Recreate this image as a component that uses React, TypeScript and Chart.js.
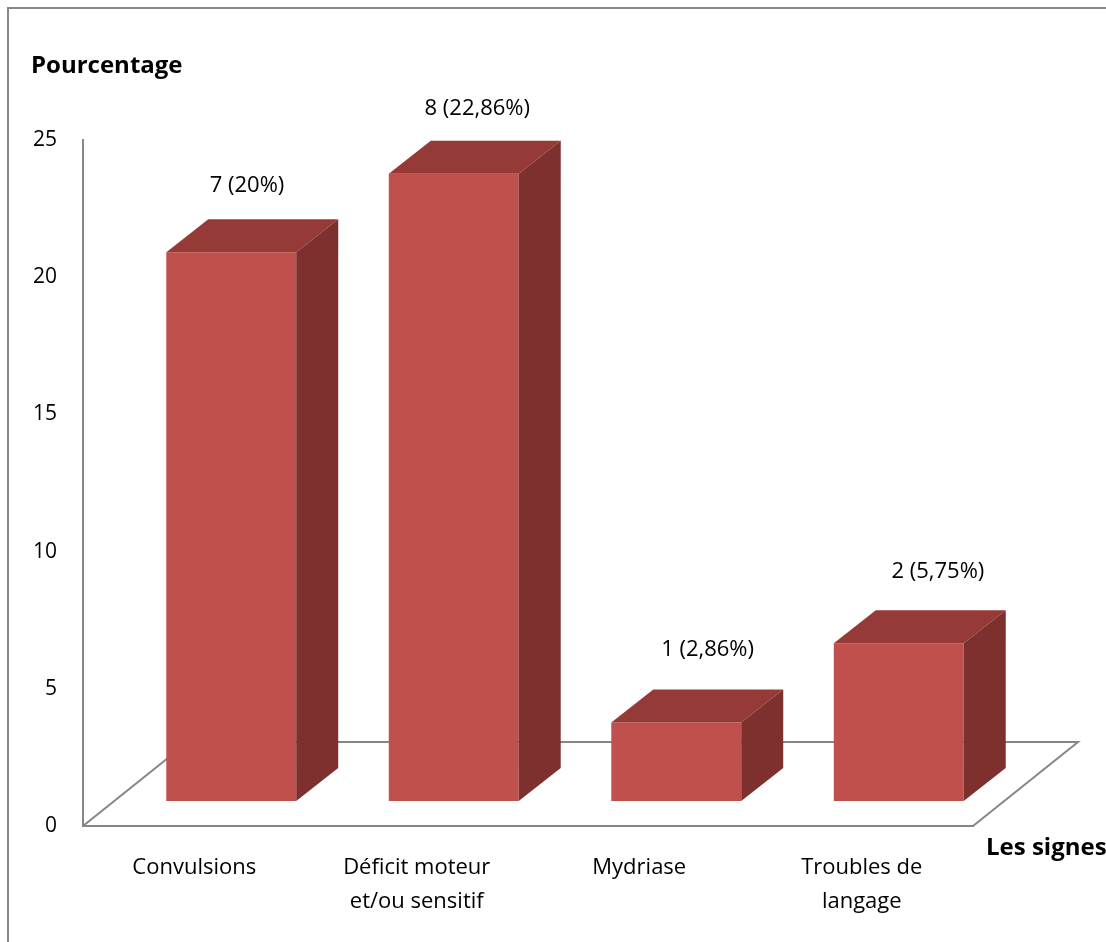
import React, { useEffect, useRef } from "react";
import { Chart, registerables } from "chart.js";

Chart.register(...registerables);

// Categories (multi-line labels under the floor)
const categories: string[][] = [
  ["Convulsions"],
  ["Déficit moteur", "et/ou sensitif"],
  ["Mydriase"],
  ["Troubles de", "langage"],
];
// Percentage of patients per sign
const percentages = [20, 22.86, 2.86, 5.75];
// Count and percentage shown above each bar
const valueLabels = ["7 (20%)", "8 (22,86%)", "1 (2,86%)", "2 (5,75%)"];
// Y axis range and step
const yMin = 0;
const yMax = 25;
const yStep = 5;

const yTitle = "Pourcentage";
const xTitle = "Les signes";

const FONT_FAMILY = "'Open Sans', 'Noto Sans', sans-serif";
const AXIS_GREY = "#868686";
const FRONT = "#c0504d";
const TOP = "#963a37";
const SIDE = "#7d302e";

// Perspective offsets for the 3D look
const FLOOR_DEPTH = { dx: 105, dy: -84 };
const BAR_SHIFT = { dx: 37, dy: -25 };
const BAR_DEPTH = { dx: 42, dy: -33 };

const threeDPlugin = {
  id: "threeD",
  beforeDraw(chart: any) {
    const { ctx, width, height } = chart;
    ctx.save();
    ctx.fillStyle = "#ffffff";
    ctx.fillRect(0, 0, width, height);
    // outer frame (top and left edges)
    ctx.strokeStyle = "#878787";
    ctx.lineWidth = 2;
    ctx.beginPath();
    ctx.moveTo(8, height);
    ctx.lineTo(8, 8);
    ctx.lineTo(width, 8);
    ctx.stroke();
    ctx.restore();
  },
  beforeDatasetsDraw(chart: any) {
    const { ctx, chartArea } = chart;
    const { left, right, bottom } = chartArea;
    // floor outline
    ctx.save();
    ctx.strokeStyle = AXIS_GREY;
    ctx.lineWidth = 2;
    ctx.beginPath();
    ctx.moveTo(left, bottom);
    ctx.lineTo(left + FLOOR_DEPTH.dx, bottom + FLOOR_DEPTH.dy);
    ctx.lineTo(right + FLOOR_DEPTH.dx, bottom + FLOOR_DEPTH.dy);
    ctx.lineTo(right, bottom);
    ctx.stroke();
    ctx.restore();
    // bars sit in the middle of the floor depth
    ctx.save();
    ctx.translate(BAR_SHIFT.dx, BAR_SHIFT.dy);
  },
  afterDatasetsDraw(chart: any) {
    const { ctx } = chart;
    const meta = chart.getDatasetMeta(0);
    meta.data.forEach((bar: any) => {
      const { x, y, base, width } = bar.getProps(["x", "y", "base", "width"], true);
      const x1 = x - width / 2;
      const x2 = x + width / 2;
      const { dx, dy } = BAR_DEPTH;
      // top face
      ctx.fillStyle = TOP;
      ctx.beginPath();
      ctx.moveTo(x1, y);
      ctx.lineTo(x1 + dx, y + dy);
      ctx.lineTo(x2 + dx, y + dy);
      ctx.lineTo(x2, y);
      ctx.closePath();
      ctx.fill();
      // side face
      ctx.fillStyle = SIDE;
      ctx.beginPath();
      ctx.moveTo(x2, y);
      ctx.lineTo(x2 + dx, y + dy);
      ctx.lineTo(x2 + dx, base + dy);
      ctx.lineTo(x2, base);
      ctx.closePath();
      ctx.fill();
    });
    // value labels above the bars, nudged with the perspective
    ctx.fillStyle = "#000000";
    ctx.font = `22px ${FONT_FAMILY}`;
    ctx.textAlign = "center";
    ctx.textBaseline = "middle";
    meta.data.forEach((bar: any, i: number) => {
      const { x, y } = bar.getProps(["x", "y"], true);
      const ox = 17 + 0.035 * (x - 230);
      const oy = -65 - 0.014 * (y - 173);
      ctx.fillText(valueLabels[i], x + ox, y + oy);
    });
    ctx.restore();
  },
  afterDraw(chart: any) {
    const { ctx } = chart;
    ctx.save();
    ctx.fillStyle = "#000000";
    ctx.font = `bold 24px ${FONT_FAMILY}`;
    ctx.textAlign = "left";
    ctx.textBaseline = "middle";
    ctx.fillText(yTitle, 31, 66);
    ctx.fillText(xTitle, 986, 848);
    ctx.restore();
  },
};

export default function App() {
  const canvasRef = useRef<HTMLCanvasElement | null>(null);

  useEffect(() => {
    if (!canvasRef.current) return;
    const font = { family: FONT_FAMILY, size: 22, lineHeight: 1.55 };
    const chart = new Chart(canvasRef.current, {
      type: "bar",
      data: {
        labels: categories,
        datasets: [
          {
            data: percentages,
            backgroundColor: FRONT,
            borderWidth: 0,
            categoryPercentage: 1,
            barPercentage: 0.584,
          },
        ],
      },
      options: {
        responsive: false,
        animation: false,
        layout: { padding: { left: 0, right: 133, top: 140, bottom: 0 } },
        plugins: {
          legend: { display: false },
          tooltip: { enabled: false },
          title: { display: false },
        },
        scales: {
          x: {
            grid: { display: false, drawTicks: false },
            border: { color: AXIS_GREY, width: 2 },
            ticks: { color: "#000000", font, padding: 25, maxRotation: 0, autoSkip: false },
            afterFit: (s: any) => {
              s.height = 116;
            },
          },
          y: {
            min: yMin,
            max: yMax,
            grid: { display: false, drawTicks: false },
            border: { color: AXIS_GREY, width: 2 },
            ticks: { stepSize: yStep, color: "#000000", font: { ...font, size: 21 }, padding: 26 },
            afterFit: (s: any) => {
              s.width = 83;
            },
          },
        },
      },
      plugins: [threeDPlugin],
    });
    return () => chart.destroy();
  }, []);

  return (
    <div style={{ position: "absolute", left: 0, top: 0, width: 1106, height: 942 }}>
      <canvas ref={canvasRef} width={1106} height={942} style={{ display: "block" }} />
    </div>
  );
}
